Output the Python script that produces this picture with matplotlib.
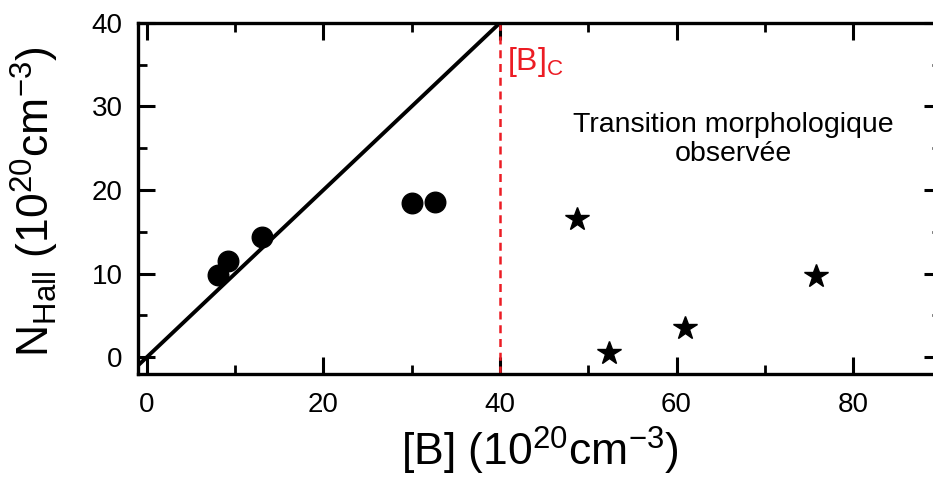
import matplotlib
matplotlib.use("Agg")
import matplotlib.pyplot as plt
import numpy as np

plt.rcParams["font.family"] = ["Liberation Sans", "DejaVu Sans"]
plt.rcParams["mathtext.fontset"] = "custom"
plt.rcParams["mathtext.rm"] = "Liberation Sans"
plt.rcParams["mathtext.it"] = "Liberation Sans:italic"
plt.rcParams["mathtext.bf"] = "Liberation Sans:bold"

# circles: below the critical concentration
b_low = [8.1, 9.25, 13.0, 30.0, 32.7]
n_low = [9.8, 11.5, 14.4, 18.5, 18.6]

# stars: morphological transition observed
b_high = [48.7, 52.3, 61.0, 75.8]
n_high = [16.5, 0.55, 3.5, 9.7]

# N = [B] line and critical concentration
fit_x = np.array([-1.0, 40.0])
fit_slope = 1.0
b_crit = 40

red = "#ec1c24"

fig = plt.figure(figsize=(9.33, 4.83), dpi=100)
ax = fig.add_axes([0.1478, 0.2257, 0.8612, 0.7269])

ax.plot(fit_x, fit_slope * fit_x, color="black", lw=2.8, solid_capstyle="butt")
ax.plot([b_crit, b_crit], [-2, 40], color=red, lw=1.8, linestyle=(0, (3.2, 2.3)))
ax.plot(b_low, n_low, "o", color="black", ms=14.8, zorder=3)
ax.plot(b_high, n_high, "*", color="black", ms=17.5, zorder=3)

ax.text(40.8, 34.4, r"[B]$_{\mathrm{C}}$", color=red, fontsize=23, va="baseline")
ax.text(66.4, 26.1, "Transition morphologique\nobservée", fontsize=20.5,
        ha="center", va="center", linespacing=1.15)

ax.set_xlim(-1, 90)
ax.set_ylim(-2, 40)
ax.set_xticks([0, 20, 40, 60, 80])
ax.set_xticks([10, 30, 50, 70], minor=True)
ax.set_yticks([0, 10, 20, 30, 40])
ax.set_yticks([5, 15, 25, 35], minor=True)

ax.tick_params(which="both", direction="in", top=True, right=True,
               labelsize=20, pad=11)
ax.tick_params(axis="x", pad=13)
ax.tick_params(which="major", length=12.5, width=2.2)
ax.tick_params(which="minor", length=6.5, width=2)
for sp in ax.spines.values():
    sp.set_linewidth(2.4)

ax.set_xlabel(r"[B] (10$^{20}$cm$^{-3}$)", fontsize=32)
ax.set_ylabel(r"N$_{\mathrm{Hall}}$ (10$^{20}$cm$^{-3}$)", fontsize=32)
ax.xaxis.set_label_coords(0.5, -0.145)
ax.yaxis.set_label_coords(-0.096, 0.49)

fig.savefig("out.png", dpi=100)
